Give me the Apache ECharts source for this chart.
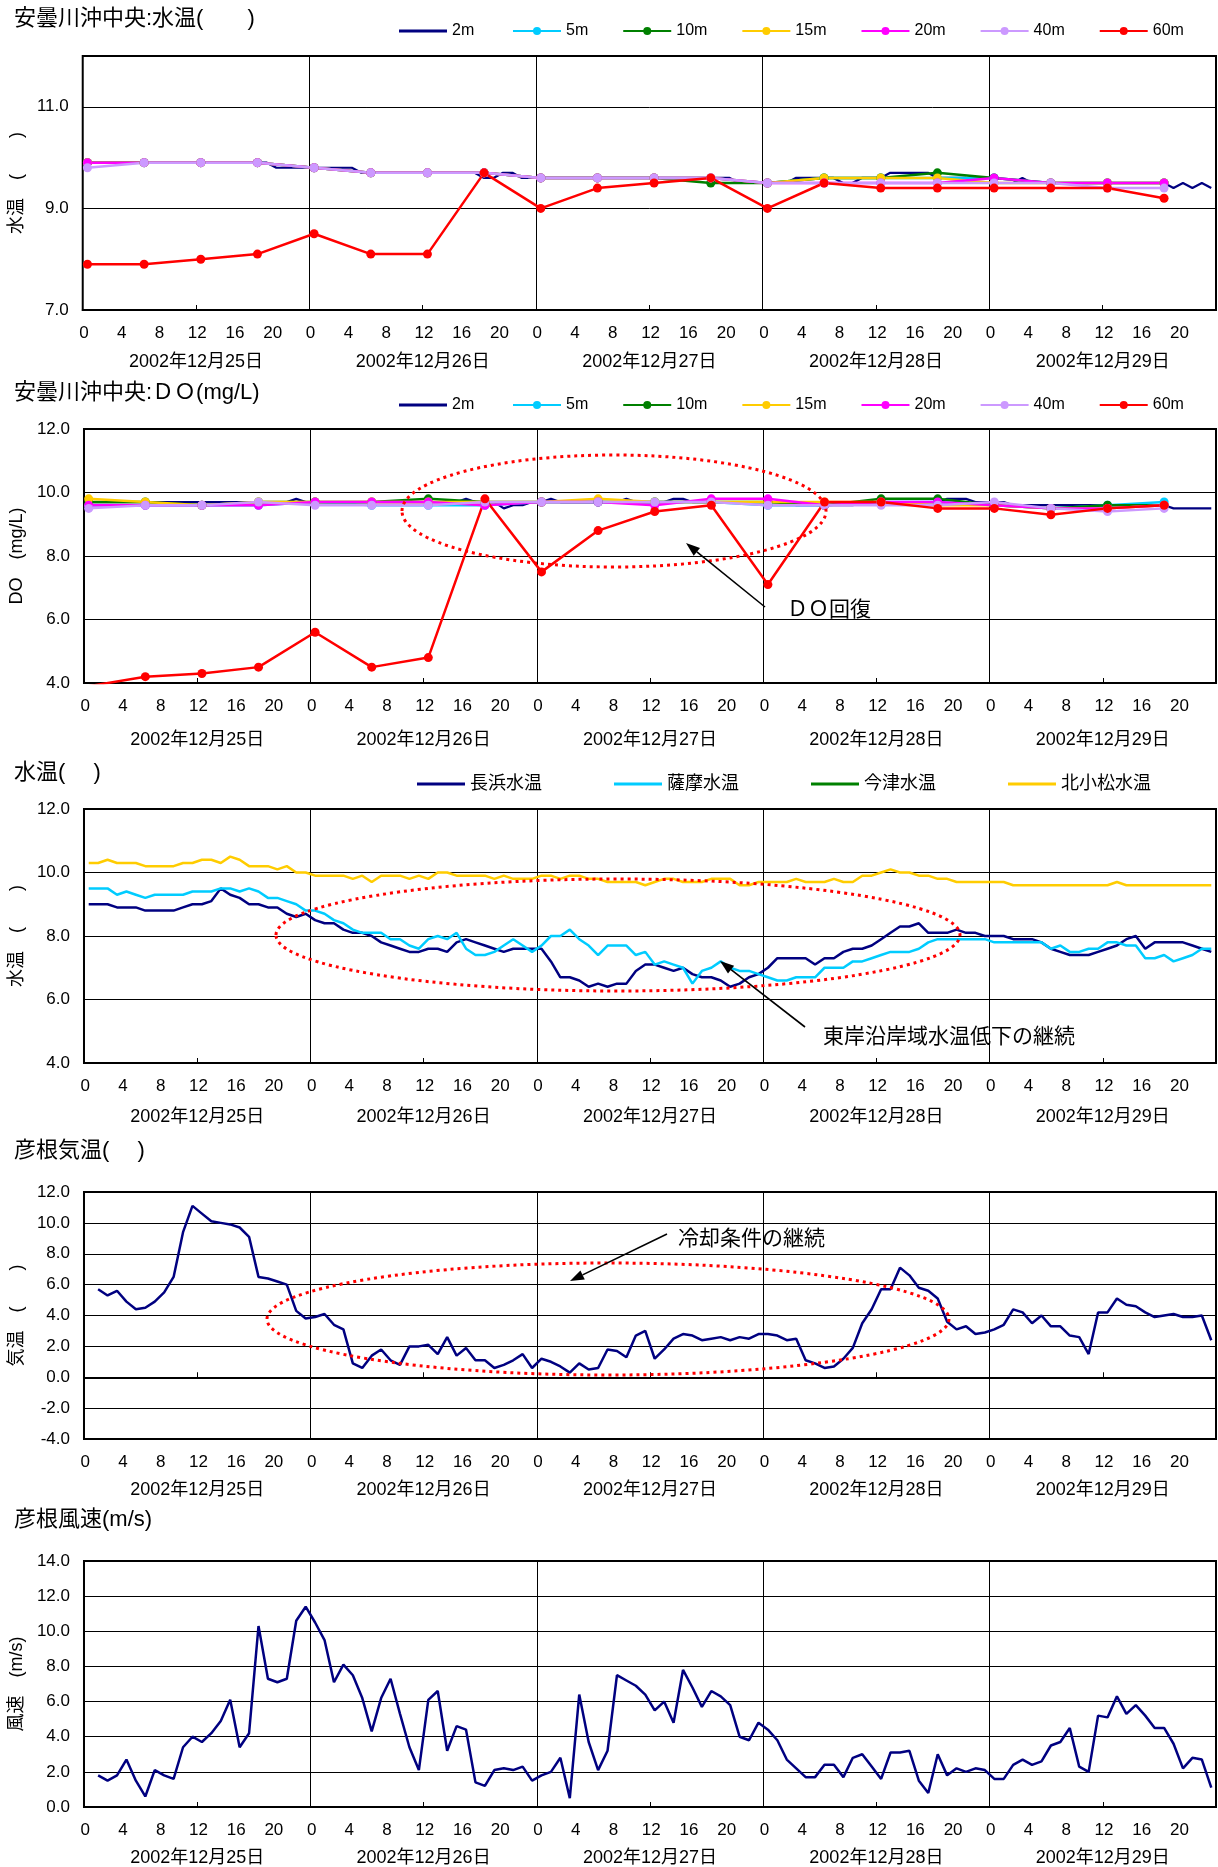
<!DOCTYPE html>
<html>
<head>
<meta charset="utf-8">
<script src="https://cdn.jsdelivr.net/npm/echarts@6/dist/echarts.min.js"></script>
<style>
html, body { margin: 0; padding: 0; background: #fff; }
#main { width: 1218px; height: 1867px; }
</style>
</head>
<body>
<div id="main"></div>
<script>
// hourly categories, 5 days x 24h
const hourCats = [];
for (let d = 0; d < 5; d++) for (let h = 0; h < 24; h++) hourCats.push(String(h));
const dateCats = ['2002年12月25日', '2002年12月26日', '2002年12月27日', '2002年12月28日', '2002年12月29日'];
const sixHourIdx = [0, 6, 12, 18, 24, 30, 36, 42, 48, 54, 60, 66, 72, 78, 84, 90, 96, 102, 108, 114];

const depthNames = ['2m', '5m', '10m', '15m', '20m', '40m', '60m'];
const depthColors = ['#000080', '#00CCFF', '#008000', '#FFCC00', '#FF00FF', '#CC99FF', '#FF0000'];

// 安曇川沖中央 水温 (2m hourly, others 6-hourly)
const temp2m = [
  9.9,9.9,9.9,9.9,9.9,9.9,9.9,9.9,9.9,9.9,9.9,9.9,9.9,9.9,9.9,9.9,9.9,9.9,9.9,9.9,9.8,9.8,9.8,9.8,
  9.8,9.8,9.8,9.8,9.8,9.7,9.7,9.7,9.7,9.7,9.7,9.7,9.7,9.7,9.7,9.7,9.7,9.7,9.6,9.6,9.7,9.7,9.6,9.6,
  9.6,9.6,9.6,9.6,9.6,9.6,9.6,9.6,9.6,9.6,9.6,9.6,9.6,9.6,9.6,9.6,9.6,9.6,9.6,9.6,9.6,9.5,9.5,9.5,
  9.5,9.5,9.5,9.6,9.6,9.6,9.6,9.6,9.5,9.5,9.6,9.6,9.6,9.7,9.7,9.7,9.7,9.7,9.6,9.6,9.6,9.6,9.5,9.5,
  9.5,9.5,9.5,9.6,9.5,9.5,9.5,9.5,9.5,9.5,9.5,9.5,9.5,9.5,9.5,9.5,9.5,9.5,9.5,9.4,9.5,9.4,9.5,9.4
];
const temp5m  = [9.9,9.9,9.9,9.9,9.8,9.7,9.7,9.7,9.6,9.6,9.6,9.6,9.5,9.6,9.6,9.6,9.6,9.5,9.5,9.5];
const temp10m = [9.9,9.9,9.9,9.9,9.8,9.7,9.7,9.7,9.6,9.6,9.6,9.5,9.5,9.6,9.6,9.7,9.6,9.5,9.5,9.5];
const temp15m = [9.9,9.9,9.9,9.9,9.8,9.7,9.7,9.7,9.6,9.6,9.6,9.6,9.5,9.6,9.6,9.6,9.5,9.5,9.5,9.5];
const temp20m = [9.9,9.9,9.9,9.9,9.8,9.7,9.7,9.7,9.6,9.6,9.6,9.6,9.5,9.5,9.5,9.5,9.6,9.5,9.5,9.5];
const temp40m = [9.8,9.9,9.9,9.9,9.8,9.7,9.7,9.7,9.6,9.6,9.6,9.6,9.5,9.5,9.5,9.5,9.5,9.5,9.4,9.4];
const temp60m = [7.9,7.9,8.0,8.1,8.5,8.1,8.1,9.7,9.0,9.4,9.5,9.6,9.0,9.5,9.4,9.4,9.4,9.4,9.4,9.2];

// 安曇川沖中央 DO
const do2m = [
  9.7,9.7,9.7,9.7,9.7,9.7,9.7,9.7,9.7,9.7,9.7,9.7,9.7,9.7,9.7,9.7,9.7,9.7,9.7,9.7,9.7,9.7,9.8,9.7,
  9.7,9.7,9.7,9.7,9.7,9.7,9.7,9.7,9.7,9.7,9.7,9.7,9.7,9.7,9.7,9.7,9.8,9.7,9.7,9.7,9.5,9.6,9.6,9.7,
  9.7,9.8,9.7,9.7,9.7,9.7,9.7,9.7,9.7,9.8,9.7,9.7,9.7,9.7,9.8,9.8,9.7,9.7,9.7,9.7,9.7,9.7,9.7,9.7,
  9.7,9.7,9.7,9.6,9.6,9.6,9.6,9.6,9.6,9.6,9.7,9.7,9.7,9.7,9.7,9.7,9.7,9.7,9.7,9.8,9.8,9.8,9.7,9.7,
  9.7,9.7,9.6,9.6,9.6,9.6,9.6,9.6,9.6,9.6,9.6,9.6,9.6,9.6,9.6,9.6,9.6,9.6,9.6,9.5,9.5,9.5,9.5,9.5
];
const do5m  = [9.6,9.6,9.6,9.6,9.7,9.6,9.6,9.6,9.7,9.7,9.7,9.7,9.6,9.6,9.7,9.7,9.6,9.5,9.6,9.7];
const do10m = [9.7,9.7,9.6,9.7,9.7,9.7,9.8,9.7,9.7,9.7,9.7,9.7,9.7,9.6,9.8,9.8,9.6,9.5,9.6,9.6];
const do15m = [9.8,9.7,9.6,9.7,9.7,9.7,9.7,9.7,9.7,9.8,9.7,9.7,9.7,9.7,9.7,9.6,9.6,9.5,9.5,9.6];
const do20m = [9.6,9.6,9.6,9.6,9.7,9.7,9.7,9.6,9.7,9.7,9.6,9.8,9.8,9.6,9.7,9.7,9.6,9.5,9.5,9.6];
const do40m = [9.5,9.6,9.6,9.7,9.6,9.6,9.6,9.7,9.7,9.7,9.7,9.7,9.6,9.6,9.6,9.6,9.7,9.5,9.4,9.5];
const do60m = [3.9,4.2,4.3,4.5,5.6,4.5,4.8,9.8,7.5,8.8,9.4,9.6,7.1,9.7,9.7,9.5,9.5,9.3,9.5,9.6];

// 沿岸水温 (hourly)
const stationNames = ['長浜水温', '薩摩水温', '今津水温', '北小松水温'];
const stationColors = ['#000080', '#00CCFF', '#008000', '#FFCC00'];
const nagahama = [
  9.0,9.0,9.0,8.9,8.9,8.9,8.8,8.8,8.8,8.8,8.9,9.0,9.0,9.1,9.5,9.3,9.2,9.0,9.0,8.9,8.9,8.7,8.6,8.7,
  8.5,8.4,8.4,8.2,8.1,8.1,8.0,7.8,7.7,7.6,7.5,7.5,7.6,7.6,7.5,7.8,7.9,7.8,7.7,7.6,7.5,7.6,7.6,7.6,
  7.6,7.2,6.7,6.7,6.6,6.4,6.5,6.4,6.5,6.5,6.9,7.1,7.1,7.0,6.9,7.0,6.8,6.7,6.7,6.6,6.4,6.5,6.7,6.8,
  7.0,7.3,7.3,7.3,7.3,7.1,7.3,7.3,7.5,7.6,7.6,7.7,7.9,8.1,8.3,8.3,8.4,8.1,8.1,8.1,8.2,8.1,8.1,8.0,
  8.0,8.0,7.9,7.9,7.9,7.8,7.6,7.5,7.4,7.4,7.4,7.5,7.6,7.7,7.9,8.0,7.6,7.8,7.8,7.8,7.8,7.7,7.6,7.5
];
const satsuma = [
  9.5,9.5,9.5,9.3,9.4,9.3,9.2,9.3,9.3,9.3,9.3,9.4,9.4,9.4,9.5,9.5,9.4,9.5,9.4,9.2,9.2,9.1,9.0,8.8,
  8.8,8.7,8.5,8.4,8.2,8.1,8.1,8.1,7.9,7.9,7.7,7.6,7.9,8.0,7.9,8.1,7.6,7.4,7.4,7.5,7.7,7.9,7.7,7.5,
  7.7,8.0,8.0,8.2,7.9,7.7,7.4,7.7,7.7,7.7,7.4,7.5,7.1,7.2,7.1,7.0,6.5,6.9,7.0,7.2,7.0,6.9,6.9,6.8,
  6.7,6.6,6.6,6.7,6.7,6.7,7.0,7.0,7.0,7.2,7.2,7.3,7.4,7.5,7.5,7.5,7.6,7.8,7.9,7.9,7.9,7.9,7.9,7.9,
  7.8,7.8,7.8,7.8,7.8,7.8,7.6,7.7,7.5,7.5,7.6,7.6,7.8,7.8,7.7,7.7,7.3,7.3,7.4,7.2,7.3,7.4,7.6,7.6
];
const imazu = [];
const kitakomatsu = [
  10.3,10.3,10.4,10.3,10.3,10.3,10.2,10.2,10.2,10.2,10.3,10.3,10.4,10.4,10.3,10.5,10.4,10.2,10.2,10.2,10.1,10.2,10.0,10.0,
  9.9,9.9,9.9,9.9,9.8,9.9,9.7,9.9,9.9,9.9,9.8,9.9,9.8,10.0,10.0,9.9,9.9,9.9,9.9,9.8,9.9,9.8,9.8,9.8,
  9.9,9.9,9.8,9.9,9.9,9.8,9.8,9.7,9.7,9.7,9.7,9.6,9.7,9.8,9.8,9.7,9.7,9.7,9.8,9.8,9.8,9.6,9.6,9.7,
  9.7,9.7,9.7,9.8,9.7,9.7,9.7,9.8,9.7,9.7,9.9,9.9,10.0,10.1,10.0,10.0,9.9,9.9,9.8,9.8,9.7,9.7,9.7,9.7,
  9.7,9.7,9.6,9.6,9.6,9.6,9.6,9.6,9.6,9.6,9.6,9.6,9.6,9.7,9.6,9.6,9.6,9.6,9.6,9.6,9.6,9.6,9.6,9.6
];

// 彦根気温, 彦根風速 (hourly, from 1:00)
const hikoneTemp = [
  5.7,5.3,5.6,4.9,4.4,4.5,4.9,5.5,6.5,9.4,11.1,10.6,10.1,10.0,9.9,9.7,9.1,6.5,6.4,6.2,6.0,4.3,3.8,
  3.9,4.1,3.4,3.1,0.9,0.6,1.4,1.8,1.1,0.8,2.0,2.0,2.1,1.5,2.6,1.4,1.9,1.1,1.1,0.6,0.8,1.1,1.5,0.6,
  1.2,1.0,0.7,0.3,0.9,0.5,0.6,1.8,1.7,1.3,2.7,3.0,1.2,1.8,2.5,2.8,2.7,2.4,2.5,2.6,2.4,2.6,2.5,2.8,
  2.8,2.7,2.4,2.5,1.1,0.9,0.6,0.7,1.2,1.9,3.5,4.4,5.7,5.7,7.1,6.6,5.8,5.6,5.1,3.6,3.1,3.3,2.8,2.9,
  3.1,3.4,4.4,4.2,3.5,4.0,3.3,3.3,2.7,2.6,1.5,4.2,4.2,5.1,4.7,4.6,4.2,3.9,4.0,4.1,3.9,3.9,4.0,2.4
];
const hikoneWind = [
  1.8,1.5,1.8,2.7,1.5,0.6,2.1,1.8,1.6,3.4,4.0,3.7,4.2,4.9,6.1,3.4,4.2,10.3,7.3,7.1,7.3,10.6,11.4,
  10.5,9.5,7.1,8.1,7.5,6.2,4.3,6.2,7.3,5.3,3.4,2.1,6.1,6.6,3.2,4.6,4.4,1.4,1.2,2.1,2.2,2.1,2.3,1.5,
  1.8,2.0,2.8,0.5,6.4,3.7,2.1,3.2,7.5,7.2,6.9,6.4,5.5,6.0,4.8,7.8,6.8,5.7,6.6,6.3,5.8,4.0,3.8,4.8,
  4.4,3.8,2.7,2.2,1.7,1.7,2.4,2.4,1.7,2.8,3.0,2.3,1.6,3.1,3.1,3.2,1.5,0.8,3.0,1.8,2.2,2.0,2.2,2.1,
  1.6,1.6,2.4,2.7,2.4,2.6,3.5,3.7,4.5,2.3,2.0,5.2,5.1,6.3,5.3,5.8,5.2,4.5,4.5,3.6,2.2,2.8,2.7,1.1
];

const FONT = "'Liberation Sans', 'Noto Sans CJK JP', sans-serif";
const CJK = "'Noto Sans CJK JP', sans-serif";

const panels = [
  { top: 56,   height: 254, min: 7,  max: 12, yName: '水温　(　　)', title: '安曇川沖中央:水温(　　)', titleTop: 8,  dateOff: 35 },
  { top: 429,  height: 254, min: 4,  max: 12, yName: 'DO　(mg/L)',   title: '安曇川沖中央:ＤＯ(mg/L)', titleTop: 382, dateOff: 40 },
  { top: 809,  height: 254, min: 4,  max: 12, yName: '水温　(　　)', title: '水温(　 )',      titleTop: 762, dateOff: 37 },
  { top: 1192, height: 247, min: -4, max: 12, yName: '気温　(　　)', title: '彦根気温(　 )',  titleTop: 1140, dateOff: 34 },
  { top: 1561, height: 246, min: 0,  max: 14, yName: '風速　(m/s)',  title: '彦根風速(m/s)',  titleTop: 1509, dateOff: 34 }
];

function pairs(idx, vals) { return vals.map((v, i) => [idx[i], v]); }
function fromHour1(vals) { return vals.map((v, i) => [i + 1, v]); }

const grids = [], xAxes = [], yAxes = [], titles = [];
panels.forEach((p, i) => {
  grids.push({ left: 80, right: 2, top: p.top, height: p.height, show: true, borderColor: '#000', borderWidth: 2 });
  xAxes.push({
    type: 'category', gridIndex: i, data: hourCats, boundaryGap: true,
    axisLine: { show: true, lineStyle: { color: '#000', width: 2 } },
    axisTick: { show: true, inside: true, length: 5, interval: (idx) => idx % 12 === 0, lineStyle: { color: '#000' } },
    axisLabel: { interval: 3, fontSize: 17, color: '#000', margin: 15, fontFamily: FONT, padding: [0, 7, 0, 0] },
    splitLine: { show: true, interval: (idx) => idx % 24 === 0, lineStyle: { color: '#000', width: 1 } }
  });
  xAxes.push({
    type: 'category', gridIndex: i, data: dateCats, position: 'bottom', offset: p.dateOff,
    axisLine: { show: false }, axisTick: { show: false }, splitLine: { show: false },
    axisLabel: { interval: 0, fontSize: 18, color: '#000', margin: 8, fontFamily: FONT }
  });
  yAxes.push({
    type: 'value', gridIndex: i, min: p.min, max: p.max, interval: 2,
    name: p.yName, nameLocation: 'middle', nameRotate: 90, nameGap: 56,
    nameTextStyle: { fontSize: 18, color: '#000', fontFamily: FONT },
    axisLine: { show: false }, axisTick: { show: false },
    axisLabel: { fontSize: 17, color: '#000', margin: 14, fontFamily: FONT,
      showMaxLabel: i !== 0, formatter: (v) => v.toFixed(1) },
    splitLine: { show: true, lineStyle: { color: '#000', width: 1 } }
  });
  titles.push({ text: p.title, left: 14, top: p.titleTop, padding: 0,
    textStyle: { fontSize: 22, fontWeight: 'normal', color: '#000', fontFamily: FONT } });
});

const series = [];
const tempDepth = [temp2m, temp5m, temp10m, temp15m, temp20m, temp40m, temp60m];
const doDepth = [do2m, do5m, do10m, do15m, do20m, do40m, do60m];
[tempDepth, doDepth].forEach((set, pi) => {
  set.forEach((vals, k) => {
    const hourly = k === 0;
    series.push({
      name: depthNames[k], type: 'line', xAxisIndex: pi * 2, yAxisIndex: pi,
      data: hourly ? vals : pairs(sixHourIdx, vals),
      color: depthColors[k], clip: true,
      symbol: hourly ? 'none' : 'circle', symbolSize: 9, showAllSymbol: true,
      lineStyle: { width: hourly ? 2.2 : 2.5, color: depthColors[k] },
      itemStyle: { color: depthColors[k] }
    });
  });
});
[nagahama, satsuma, imazu, kitakomatsu].forEach((vals, k) => {
  series.push({
    name: stationNames[k], type: 'line', xAxisIndex: 4, yAxisIndex: 2, data: vals,
    color: stationColors[k], symbol: 'none', lineStyle: { width: 2.5, color: stationColors[k] }
  });
});
series.push({ name: '彦根気温', type: 'line', xAxisIndex: 6, yAxisIndex: 3, data: fromHour1(hikoneTemp),
  color: '#000080', symbol: 'none', lineStyle: { width: 2.5, color: '#000080' } });
series.push({ name: '彦根風速', type: 'line', xAxisIndex: 8, yAxisIndex: 4, data: fromHour1(hikoneWind),
  color: '#000080', symbol: 'none', lineStyle: { width: 2.5, color: '#000080' } });

// annotations
const dotted = { fill: 'none', stroke: '#FF0000', lineWidth: 3, lineDash: [3, 4] };
function arrow(x1, y1, x2, y2) {
  const a = Math.atan2(y2 - y1, x2 - x1), L = 14, W = 5;
  const bx = x2 - L * Math.cos(a), by = y2 - L * Math.sin(a);
  const px = -Math.sin(a) * W, py = Math.cos(a) * W;
  return [
    { type: 'line', z: 100, silent: true, shape: { x1: x1, y1: y1, x2: bx, y2: by }, style: { stroke: '#000', lineWidth: 1.6 } },
    { type: 'polygon', z: 100, silent: true, shape: { points: [[x2, y2], [bx + px, by + py], [bx - px, by - py]] }, style: { fill: '#000' } }
  ];
}
function note(text, x, y) {
  return { type: 'text', z: 100, silent: true, x: x, y: y,
    style: { text: text, fill: '#000', font: '21px ' + CJK, verticalAlign: 'middle' } };
}
const graphics = [
  { type: 'ellipse', z: 100, silent: true, shape: { cx: 614, cy: 511, rx: 212, ry: 56 }, style: dotted },
  { type: 'ellipse', z: 100, silent: true, shape: { cx: 618, cy: 935, rx: 342, ry: 56 }, style: dotted },
  { type: 'ellipse', z: 100, silent: true, shape: { cx: 608, cy: 1319, rx: 341, ry: 56 }, style: dotted },
  ...arrow(765, 607, 686, 543),
  ...arrow(805, 1027, 720, 961),
  ...arrow(667, 1234, 570, 1281),
  note('ＤＯ回復', 787, 608),
  note('東岸沿岸域水温低下の継続', 823, 1035),
  note('冷却条件の継続', 678, 1237)
];

const legText = { fontSize: 16, color: '#000', fontFamily: FONT };
// plain-line legend entries (no marker) get a thin rect icon
function lineLegend(names, left, top, gap, fs) {
  return { data: names, left: left, top: top, padding: 0, icon: 'rect', itemWidth: 48, itemHeight: 3,
    itemGap: gap, textStyle: Object.assign({}, legText, { fontSize: fs }) };
}
function dotLegend(names, left, top) {
  return { data: names, left: left, top: top, padding: 0, itemWidth: 48, itemHeight: 10,
    itemGap: 34, textStyle: legText };
}

const option = {
  animation: false,
  backgroundColor: '#fff',
  textStyle: { fontFamily: FONT },
  title: titles,
  legend: [
    lineLegend(['2m'], 399, 23, 30, 16),
    dotLegend(depthNames.slice(1), 512, 23),
    lineLegend(['2m'], 399, 397, 30, 16),
    dotLegend(depthNames.slice(1), 512, 397),
    lineLegend(stationNames, 417, 775, 72, 18)
  ],
  grid: grids,
  xAxis: xAxes,
  yAxis: yAxes,
  series: series,
  graphic: graphics
};

const chart = echarts.init(document.getElementById('main'));
chart.setOption(option);
</script>
</body>
</html>
